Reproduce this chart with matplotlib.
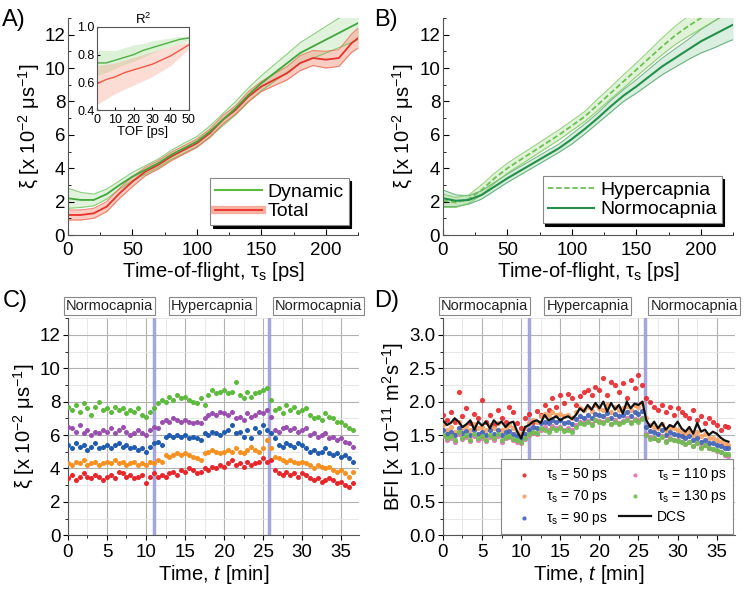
import numpy as np
import matplotlib
matplotlib.use('Agg')
import matplotlib.pyplot as plt
from matplotlib.lines import Line2D
from matplotlib.ticker import MultipleLocator
import matplotlib.transforms as mtransforms

plt.rcParams['font.family'] = ['Liberation Sans', 'DejaVu Sans']
plt.rcParams['mathtext.fontset'] = 'custom'
plt.rcParams['mathtext.rm'] = 'Liberation Sans'
plt.rcParams['mathtext.it'] = 'Liberation Sans:italic'
plt.rcParams['axes.edgecolor'] = '#555555'

# --- panel A / B : xi vs time-of-flight ---
tof = [0, 10, 20, 30, 40, 50, 60, 70, 80, 90, 100, 110, 120, 130, 140,
       150, 160, 170, 180, 190, 200, 210, 220, 225]
dyn_mean = [2.2, 2.1, 2.1, 2.45, 3.0, 3.5, 3.9, 4.3, 4.8, 5.2, 5.6, 6.2, 6.9,
            7.6, 8.4, 9.1, 9.7, 10.3, 10.9, 11.3, 11.7, 12.1, 12.5, 12.7]
dyn_hw = [0.6, 0.45, 0.35, 0.3, 0.25, 0.25, 0.25, 0.25, 0.27, 0.3, 0.3, 0.33,
          0.36, 0.4, 0.42, 0.45, 0.5, 0.55, 0.62, 0.7, 0.8, 0.88, 0.96, 1.0]
tot_mean = [1.2, 1.2, 1.3, 1.7, 2.5, 3.2, 3.8, 4.2, 4.7, 5.1, 5.5, 6.1, 6.9,
            7.5, 8.3, 8.9, 9.3, 9.7, 10.3, 10.6, 10.5, 10.6, 11.5, 11.8]
tot_hw = [0.3, 0.3, 0.3, 0.3, 0.3, 0.3, 0.25, 0.25, 0.25, 0.25, 0.25, 0.25,
          0.25, 0.25, 0.3, 0.3, 0.35, 0.4, 0.45, 0.45, 0.5, 0.5, 0.55, 0.6]
normo_mean = [2.2, 2.05, 2.1, 2.4, 2.9, 3.4, 3.85, 4.3, 4.75, 5.2, 5.75, 6.35,
              7.0, 7.7, 8.35, 8.9, 9.5, 10.1, 10.6, 11.1, 11.6, 12.0, 12.4, 12.6]
normo_hw = [0.5, 0.35, 0.25, 0.25, 0.25, 0.25, 0.25, 0.25, 0.25, 0.25, 0.3,
            0.3, 0.3, 0.35, 0.35, 0.4, 0.45, 0.5, 0.55, 0.6, 0.7, 0.8, 0.85, 0.9]
hyper_mean = [2.05, 1.95, 2.15, 2.7, 3.4, 4.0, 4.5, 5.0, 5.5, 6.0, 6.55, 7.1,
              7.8, 8.5, 9.2, 9.9, 10.6, 11.3, 11.95, 12.5, 13.0, 13.5, 14.0, 14.2]
hyper_hw = [0.4, 0.3, 0.25, 0.3, 0.3, 0.3, 0.3, 0.3, 0.3, 0.3, 0.3, 0.3, 0.35,
            0.35, 0.4, 0.4, 0.45, 0.5, 0.55, 0.6, 0.65, 0.7, 0.75, 0.8]

# inset R^2
tof_r2 = [0, 5, 10, 15, 20, 25, 30, 35, 40, 45, 50]
r2_dyn = [0.74, 0.74, 0.76, 0.78, 0.80, 0.83, 0.85, 0.87, 0.89, 0.91, 0.92]
r2_dyn_lo = [0.65, 0.67, 0.70, 0.73, 0.75, 0.78, 0.81, 0.84, 0.86, 0.88, 0.90]
r2_dyn_hi = [0.83, 0.83, 0.83, 0.85, 0.87, 0.88, 0.90, 0.91, 0.92, 0.93, 0.93]
r2_tot = [0.59, 0.62, 0.64, 0.67, 0.69, 0.71, 0.73, 0.76, 0.79, 0.83, 0.87]
r2_tot_lo = [0.44, 0.48, 0.52, 0.55, 0.58, 0.61, 0.64, 0.68, 0.72, 0.78, 0.84]
r2_tot_hi = [0.72, 0.73, 0.74, 0.76, 0.78, 0.80, 0.82, 0.84, 0.86, 0.88, 0.89]

# --- panel C / D : time courses (every 0.5 min) ---
t_min = np.arange(74) * 0.5

xi_50 = [3.4, 3.6, 3.3, 3.5, 3.7, 3.5, 3.4, 3.6, 3.5, 3.3,
         3.5, 3.6, 3.4, 3.8, 3.7, 3.5, 3.6, 3.4, 3.5, 3.6,
         3.1, 3.5, 3.7, 3.5, 3.6, 3.5, 3.7, 3.8, 3.6, 3.9,
         3.8, 4.0, 3.9, 3.7, 3.8, 4.0, 3.9, 4.1, 4.0, 4.2,
         4.1, 4.3, 4.5, 4.2, 4.3, 4.1, 4.4, 4.2, 4.3, 4.4,
         4.6, 4.4, 4.5, 3.9, 3.7, 3.6, 3.8, 3.6, 3.7, 3.5,
         3.7, 3.6, 3.4, 3.3, 3.4, 3.2, 3.3, 3.4, 3.3, 3.1,
         3.2, 3.0, 2.9, 3.1]
xi_70 = [4.3, 4.2, 4.4, 4.3, 4.5, 4.2, 4.3, 4.4, 4.2, 4.3,
         4.4, 4.3, 4.5, 4.3, 4.4, 4.2, 4.3, 4.4, 4.2, 4.3,
         4.2, 4.4, 4.3, 4.5, 4.4, 4.8, 4.7, 4.8, 4.9, 4.8,
         4.9, 4.8, 4.7, 4.6, 4.5, 4.9, 5.0, 5.1, 5.0, 4.9,
         5.0, 5.1, 5.0, 5.2, 5.0, 4.9, 5.1, 5.3, 5.1, 5.0,
         5.2, 5.7, 5.2, 4.7, 4.6, 4.5, 4.4, 4.5, 4.4, 4.3,
         4.4, 4.3, 4.2, 4.0, 4.2, 4.1, 4.0, 4.1, 3.9, 3.8,
         3.9, 3.7, 3.5, 3.8]
xi_90 = [5.4, 5.2, 5.5, 5.3, 5.4, 5.1, 5.3, 5.5, 5.2, 5.3,
         5.4, 5.2, 5.4, 5.5, 5.3, 5.4, 5.2, 5.3, 5.1, 5.2,
         5.0, 5.3, 5.5, 5.6, 5.4, 5.9, 6.0, 5.9, 6.0, 5.9,
         6.0, 5.8, 5.9, 5.8, 5.7, 6.1, 6.0, 6.2, 6.1, 6.0,
         6.2, 6.3, 6.6, 6.1, 6.2, 5.9, 6.3, 5.8, 6.4, 6.2,
         6.6, 6.3, 6.1, 5.8, 5.4, 5.3, 5.5, 5.4, 5.3, 5.5,
         5.4, 5.2, 5.0, 5.1, 4.9, 5.0, 5.2, 4.9, 4.8, 4.9,
         4.7, 4.8, 4.6, 4.4]
xi_110 = [6.5, 6.4, 6.2, 6.6, 6.1, 6.3, 6.0, 6.2, 6.1, 6.3,
          6.2, 6.4, 6.1, 6.3, 6.5, 6.2, 6.0, 6.1, 6.3, 6.1,
          6.0, 6.3, 6.5, 6.4, 6.8, 6.9, 6.8, 7.0, 6.9, 6.8,
          6.9, 6.8, 6.7, 6.8, 6.7, 7.0, 7.2, 7.3, 7.2, 7.4,
          7.3, 7.2, 7.4, 7.0, 7.1, 6.9, 7.3, 7.1, 7.2, 7.4,
          7.3, 7.5, 7.1, 6.3, 6.2, 6.4, 6.5, 6.3, 6.4, 6.2,
          6.3, 6.4, 6.0, 6.1, 5.9, 6.0, 6.1, 5.8, 5.9, 5.7,
          5.8, 5.6, 5.5, 5.3]
xi_130 = [7.7, 7.5, 7.8, 7.4, 7.9, 7.6, 7.2, 7.7, 8.0, 7.5,
          7.6, 7.4, 7.7, 7.5, 7.6, 7.3, 7.5, 7.4, 7.6, 7.2,
          7.1, 7.4, 7.6, 7.9, 8.1, 8.0, 8.3, 8.1, 8.4, 8.2,
          8.3, 8.1, 8.0, 7.9, 8.2, 7.8, 8.4, 8.7, 8.5, 8.6,
          8.7, 8.5, 8.6, 9.2, 8.4, 8.2, 8.6, 8.3, 8.5, 8.6,
          8.7, 8.8, 8.1, 7.5, 7.6, 7.3, 7.8, 7.5, 7.7, 7.4,
          7.5, 7.6, 7.2, 7.0, 7.1, 6.9, 7.3, 7.1, 7.0, 6.8,
          6.8, 6.6, 6.4, 6.3]

bfi_50 = [1.80, 1.72, 1.85, 1.70, 2.15, 1.78, 1.90, 1.68, 1.82, 1.75,
          2.03, 1.70, 1.80, 1.65, 1.88, 1.76, 1.70, 1.92, 1.85, 1.68,
          1.60, 1.75, 1.82, 1.70, 1.86, 1.80, 1.95, 1.88, 2.05, 1.92,
          2.10, 1.98, 2.12, 2.05, 1.95, 2.08, 2.15, 2.18, 2.10, 2.22,
          2.18, 2.35, 2.10, 2.30, 2.25, 2.15, 2.28, 2.05, 2.32, 2.20,
          2.40, 2.25, 2.05, 2.00, 1.92, 1.88, 1.95, 1.85, 1.92, 1.80,
          1.90, 1.85, 1.80, 1.75, 1.88, 1.72, 1.78, 1.68, 1.75, 1.70,
          1.65, 1.58, 1.64, 1.62]
bfi_70 = [1.65, 1.58, 1.62, 1.55, 1.70, 1.60, 1.64, 1.58, 1.66, 1.60,
          1.62, 1.57, 1.65, 1.60, 1.68, 1.58, 1.62, 1.65, 1.60, 1.55,
          1.52, 1.60, 1.68, 1.72, 1.70, 1.78, 1.82, 1.80, 1.85, 1.80,
          1.82, 1.78, 1.80, 1.76, 1.85, 1.90, 1.88, 1.92, 1.86, 1.95,
          1.90, 1.88, 1.95, 1.85, 1.92, 1.88, 1.90, 1.93, 1.87, 1.95,
          1.92, 1.98, 1.75, 1.65, 1.62, 1.60, 1.66, 1.58, 1.62, 1.60,
          1.58, 1.55, 1.52, 1.56, 1.50, 1.54, 1.48, 1.52, 1.46, 1.45,
          1.42, 1.40, 1.36, 1.35]
bfi_90 = [1.57, 1.52, 1.55, 1.50, 1.60, 1.53, 1.56, 1.50, 1.58, 1.52,
          1.55, 1.50, 1.57, 1.52, 1.58, 1.50, 1.54, 1.56, 1.52, 1.48,
          1.45, 1.52, 1.58, 1.62, 1.60, 1.68, 1.70, 1.68, 1.72, 1.70,
          1.72, 1.68, 1.70, 1.66, 1.74, 1.78, 1.76, 1.80, 1.76, 1.82,
          1.80, 1.78, 1.83, 1.76, 1.82, 1.78, 1.80, 1.84, 1.78, 1.85,
          1.82, 1.86, 1.62, 1.56, 1.55, 1.52, 1.57, 1.50, 1.54, 1.52,
          1.50, 1.48, 1.45, 1.48, 1.42, 1.46, 1.40, 1.43, 1.38, 1.38,
          1.35, 1.34, 1.30, 1.30]
bfi_110 = [1.48, 1.42, 1.46, 1.40, 1.52, 1.44, 1.47, 1.41, 1.49, 1.43,
           1.46, 1.41, 1.47, 1.43, 1.49, 1.40, 1.45, 1.47, 1.42, 1.40,
           1.38, 1.44, 1.50, 1.53, 1.52, 1.58, 1.62, 1.58, 1.63, 1.60,
           1.62, 1.58, 1.61, 1.57, 1.65, 1.70, 1.68, 1.71, 1.67, 1.73,
           1.71, 1.69, 1.74, 1.67, 1.72, 1.68, 1.71, 1.75, 1.69, 1.74,
           1.72, 1.76, 1.52, 1.47, 1.45, 1.43, 1.48, 1.41, 1.45, 1.43,
           1.42, 1.40, 1.37, 1.40, 1.34, 1.38, 1.32, 1.35, 1.30, 1.29,
           1.26, 1.24, 1.20, 1.19]
bfi_130 = [1.50, 1.45, 1.48, 1.42, 1.55, 1.46, 1.50, 1.43, 1.51, 1.45,
           1.48, 1.43, 1.50, 1.45, 1.51, 1.42, 1.47, 1.49, 1.44, 1.42,
           1.40, 1.46, 1.52, 1.55, 1.53, 1.60, 1.57, 1.55, 1.60, 1.58,
           1.60, 1.56, 1.58, 1.55, 1.62, 1.68, 1.66, 1.70, 1.65, 1.72,
           1.70, 1.68, 1.72, 1.66, 1.70, 1.67, 1.70, 1.73, 1.68, 1.72,
           1.70, 1.74, 1.50, 1.44, 1.46, 1.42, 1.47, 1.40, 1.44, 1.42,
           1.41, 1.39, 1.36, 1.40, 1.34, 1.38, 1.31, 1.35, 1.30, 1.29,
           1.27, 1.25, 1.22, 1.22]
bfi_dcs = [1.72, 1.65, 1.68, 1.75, 1.70, 1.62, 1.66, 1.72, 1.58, 1.70,
           1.64, 1.70, 1.60, 1.72, 1.66, 1.70, 1.62, 1.68, 1.70, 1.55,
           1.45, 1.62, 1.65, 1.70, 1.72, 1.68, 1.80, 1.72, 1.75, 1.78,
           1.72, 1.76, 1.78, 1.74, 1.80, 1.90, 1.85, 1.95, 1.88, 1.98,
           1.90, 2.00, 1.85, 1.98, 1.88, 1.95, 1.82, 2.00, 1.90, 1.97,
           1.95, 2.00, 1.72, 1.62, 1.70, 1.60, 1.68, 1.58, 1.65, 1.62,
           1.70, 1.60, 1.55, 1.62, 1.52, 1.68, 1.55, 1.58, 1.50, 1.55,
           1.52, 1.46, 1.42, 1.40]

switch_times = [11.0, 25.8]
phase_names = ['Normocapnia', 'Hypercapnia', 'Normocapnia']
phase_centers = [5.3, 18.5, 32.1]

c_colors = ['#e8262a', '#f7901e', '#1f5caf', '#9a4fb0', '#5cba3c']
d_colors = ['#e8262a', '#f8a060', '#3d5fb5', '#e070b0', '#6cbf4e']
tau_labels = ['50', '70', '90', '110', '130']

fig = plt.figure(figsize=(7.52, 5.98), dpi=100)
axA = fig.add_axes([0.0904, 0.607, 0.386, 0.363])
axB = fig.add_axes([0.589, 0.607, 0.386, 0.363])
axC = fig.add_axes([0.0904, 0.105, 0.387, 0.363])
axD = fig.add_axes([0.589, 0.105, 0.388, 0.363])
axIn = fig.add_axes([0.129, 0.816, 0.122, 0.139])

xi_label = 'ξ [x 10$^{-2}$ μs$^{-1}$]'
tof_label = 'Time-of-flight, τ$_\\mathrm{s}$ [ps]'

def style_tof_axis(ax):
    ax.set_xlim(0, 225)
    ax.set_ylim(0, 13)
    ax.xaxis.set_major_locator(MultipleLocator(50))
    ax.xaxis.set_minor_locator(MultipleLocator(25))
    ax.yaxis.set_major_locator(MultipleLocator(2))
    ax.yaxis.set_minor_locator(MultipleLocator(1))
    ax.spines['top'].set_visible(False)
    ax.spines['right'].set_visible(False)
    ax.tick_params(which='both', direction='in', labelsize=13.5, pad=2)
    ax.tick_params(axis='x', which='both', pad=5)
    ax.tick_params(which='major', length=4)
    ax.tick_params(which='minor', length=2)
    ax.set_xlabel(tof_label, fontsize=14.5, labelpad=1)
    ax.set_ylabel(xi_label, fontsize=14.5, labelpad=2)

# ---- A ----
dm, dh = np.array(dyn_mean), np.array(dyn_hw)
tm, th = np.array(tot_mean), np.array(tot_hw)
axA.fill_between(tof, dm - dh, dm + dh, color='#8fd17a', alpha=0.25, lw=0)
axA.plot(tof, dm + dh, color='#6cc45a', lw=0.8, alpha=0.8)
axA.plot(tof, dm - dh, color='#6cc45a', lw=0.8, alpha=0.8)
axA.fill_between(tof, tm - th, tm + th, color='#f6907a', alpha=0.45, lw=0)
axA.plot(tof, tm + th, color='#ef6a50', lw=0.8, alpha=0.8)
axA.plot(tof, tm - th, color='#ef6a50', lw=0.8, alpha=0.8)
axA.plot(tof, tm, color='#e8302a', lw=1.3)
axA.plot(tof, dm, color='#3ea83a', lw=1.3)
style_tof_axis(axA)
hA = [Line2D([], [], color='#5cba3c', lw=1.5),
      (Line2D([], [], color='#f6907a', lw=6, alpha=0.7),
       Line2D([], [], color='#e8302a', lw=1.3))]
legA = axA.legend(hA, ['Dynamic', 'Total'], loc='lower right', fontsize=14,
                  handlelength=2.4, handletextpad=0.3, borderpad=0.25,
                  labelspacing=0.1, borderaxespad=0.5, fancybox=False,
                  shadow={'color': 'k', 'alpha': 1}, edgecolor='#888888')
legA.get_frame().set_linewidth(0.8)

# inset
axIn.fill_between(tof_r2, r2_dyn_lo, r2_dyn_hi, color='#8fd17a', alpha=0.3, lw=0)
axIn.fill_between(tof_r2, r2_tot_lo, r2_tot_hi, color='#f6a08a', alpha=0.35, lw=0)
axIn.plot(tof_r2, r2_tot, color='#ef5a40', lw=1.0)
axIn.plot(tof_r2, r2_dyn, color='#4fb046', lw=1.0)
axIn.set_xlim(0, 50)
axIn.set_ylim(0.4, 1.0)
axIn.xaxis.set_major_locator(MultipleLocator(10))
axIn.yaxis.set_major_locator(MultipleLocator(0.2))
axIn.yaxis.set_major_formatter(plt.FormatStrFormatter('%.1f'))
axIn.tick_params(direction='in', labelsize=9, length=2.5, pad=1.5)
axIn.tick_params(axis='x', pad=3)
axIn.set_xlabel('TOF [ps]', fontsize=9.5, labelpad=0)
axIn.set_title('R$^2$', fontsize=9.5, pad=1)

# ---- B ----
nm, nh = np.array(normo_mean), np.array(normo_hw)
hm, hh = np.array(hyper_mean), np.array(hyper_hw)
axB.fill_between(tof, nm - nh, nm + nh, color='#4caf6a', alpha=0.2, lw=0)
axB.plot(tof, nm + nh, color='#3a9a55', lw=0.8, alpha=0.7)
axB.plot(tof, nm - nh, color='#3a9a55', lw=0.8, alpha=0.7)
axB.fill_between(tof, hm - hh, hm + hh, color='#9ad67e', alpha=0.3, lw=0)
axB.plot(tof, hm + hh, color='#7cc860', lw=0.8, alpha=0.8)
axB.plot(tof, hm - hh, color='#7cc860', lw=0.8, alpha=0.8)
axB.plot(tof, hm, color='#6cc050', lw=1.3, ls=(0, (3, 1.5)))
axB.plot(tof, nm, color='#22904a', lw=1.5)
style_tof_axis(axB)
hB = [Line2D([], [], color='#6cc050', lw=1.3, ls=(0, (3, 1.5))),
      Line2D([], [], color='#22904a', lw=1.5)]
legB = axB.legend(hB, ['Hypercapnia', 'Normocapnia'], loc='lower right',
                  fontsize=14, handlelength=2.4, handletextpad=0.3,
                  borderpad=0.25, labelspacing=0.1, borderaxespad=0.6,
                  fancybox=False, shadow={'color': 'k', 'alpha': 1},
                  edgecolor='#888888')
legB.get_frame().set_linewidth(0.8)

# ---- C / D common ----
def style_time_axis(ax):
    ax.set_xlim(0, 37.3)
    ax.xaxis.set_major_locator(MultipleLocator(5))
    ax.xaxis.set_minor_locator(MultipleLocator(2.5))
    ax.grid(which='major', color='#b2b2b2', lw=0.8)
    ax.grid(which='minor', color='#e4e4e4', lw=0.6)
    ax.set_axisbelow(True)
    ax.spines['top'].set_visible(False)
    ax.spines['right'].set_visible(False)
    ax.tick_params(which='both', direction='out', labelsize=13.5, pad=2)
    ax.tick_params(axis='x', which='both', pad=3)
    ax.tick_params(which='major', length=3.5)
    ax.tick_params(which='minor', length=2)
    ax.set_xlabel('Time, $t$ [min]', fontsize=14.5, labelpad=1)
    for tt in switch_times:
        ax.axvline(tt, color='#9c9cdc', lw=2.5, alpha=0.9, zorder=1.5)
    trans = mtransforms.blended_transform_factory(ax.transData, ax.transAxes)
    for name, xc in zip(phase_names, phase_centers):
        ax.text(xc, 1.055, name, transform=trans, ha='center', va='center',
                fontsize=10.5, color='#222222',
                bbox=dict(boxstyle='square,pad=0.15', fc='white',
                          ec='#888888', lw=0.8))

# ---- C ----
for ys, col in zip([xi_50, xi_70, xi_90, xi_110, xi_130], c_colors):
    axC.scatter(t_min, ys, s=13, color=col, lw=0, zorder=3)
axC.set_ylim(0, 13)
axC.yaxis.set_major_locator(MultipleLocator(2))
axC.yaxis.set_minor_locator(MultipleLocator(1))
style_time_axis(axC)
axC.set_ylabel(xi_label, fontsize=14.5, labelpad=2)

# ---- D ----
hD = []
for ys, col, lab in zip([bfi_50, bfi_70, bfi_90, bfi_110, bfi_130],
                        d_colors, tau_labels):
    hD.append(axD.scatter(t_min, ys, s=14, color=col, lw=0, alpha=0.9,
                          zorder=3, label='τ$_\\mathrm{s}$ = ' + lab + ' ps'))
hD.append(axD.plot(t_min, bfi_dcs, color='#111111', lw=1.6, zorder=4,
                   label='DCS')[0])
axD.set_ylim(0, 3.25)
axD.yaxis.set_major_locator(MultipleLocator(0.5))
axD.yaxis.set_minor_locator(MultipleLocator(0.25))
axD.yaxis.set_major_formatter(plt.FormatStrFormatter('%.1f'))
style_time_axis(axD)
axD.set_ylabel('BFI [x 10$^{-11}$ m$^2$s$^{-1}$]', fontsize=14.5, labelpad=2)
legD = axD.legend(handles=hD, ncol=2, loc='lower right', fontsize=10,
                  markerscale=0.8, handlelength=2.3, handletextpad=0.4,
                  columnspacing=0.8, borderpad=0.5, labelspacing=0.35,
                  borderaxespad=0.1, fancybox=False, edgecolor='#888888',
                  framealpha=1)
legD.get_frame().set_linewidth(0.8)

for lab, x, y in [('A)', 0.003, 0.985), ('B)', 0.497, 0.985),
                  ('C)', 0.003, 0.515), ('D)', 0.497, 0.515)]:
    fig.text(x, y, lab, fontsize=17, va='top', ha='left')

fig.savefig('out.png', dpi=100)
